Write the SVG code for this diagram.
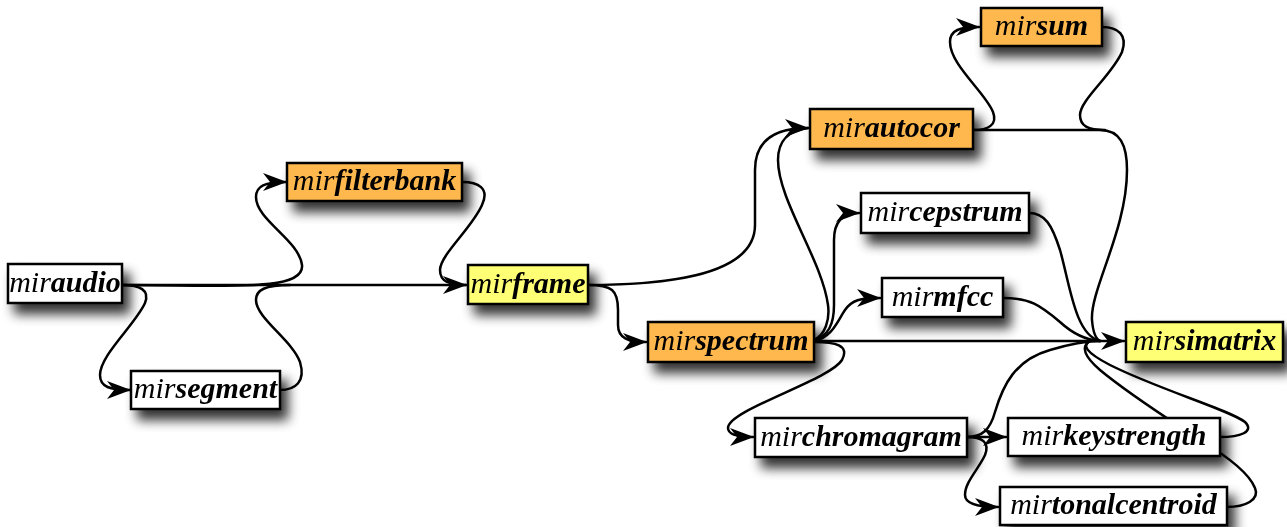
<svg xmlns="http://www.w3.org/2000/svg" width="1287" height="527" viewBox="0 0 1287 527">
<style>
.e{fill:none;stroke:#000;stroke-width:2.5;stroke-linecap:round}
.b{stroke:#000;stroke-width:2.5}
.w{fill:#fff}
.o{fill:#FFB84E}
.y{fill:#FFFF75}
.t{font-family:'Times New Roman',Times,Tinos,'Liberation Serif','Noto Serif','DejaVu Serif',serif;font-style:italic;font-size:30px;fill:#000;text-anchor:middle}
.n{font-weight:bold}
</style>
<defs>
<filter id="sh" x="-20%" y="-40%" width="150%" height="240%">
<feGaussianBlur in="SourceAlpha" stdDeviation="6"/>
<feOffset dx="7" dy="10" result="o"/>
<feComponentTransfer><feFuncA type="linear" slope="0.8"/></feComponentTransfer>
<feMerge><feMergeNode/><feMergeNode in="SourceGraphic"/></feMerge>
</filter>
<marker id="ar" markerUnits="userSpaceOnUse" markerWidth="24" markerHeight="18" viewBox="0 0 24 18" refX="23" refY="9" orient="auto">
<path d="M0,0 L24,9 L0,18 L7,9 Z" fill="#000"/>
</marker>
</defs>
<g id="connectors">
<path class="e" d="M122,285 L466,285" marker-end="url(#ar)"/>
<path class="e" d="M122,285 C230,285 305,292 302,265 C299,240 256,220 256,197 C256,186 265,182 286,182" marker-end="url(#ar)"/>
<path class="e" d="M122,285 C140,285 150,290 145,303 C135,325 100,355 100,375 C100,387 110,390 130,390" marker-end="url(#ar)"/>
<path class="e" d="M280,390 C295,390 306,382 300,362 C292,340 256,318 256,300 C256,290 265,285 290,285"/>
<path class="e" d="M462,182 C478,182 490,188 482,205 C472,228 440,255 440,270 C440,282 450,285 466,285"/>
<path class="e" d="M588,285 C650,285 755,280 755,225 L755,170 C755,140 775,128 808,128" marker-end="url(#ar)"/>
<path class="e" d="M588,285 C612,285 618,290 618,310 L618,325 C618,338 628,342 646,342" marker-end="url(#ar)"/>
<path class="e" d="M814,340 C825,335 830,320 828,305 C822,260 778,200 778,160 C778,140 790,130 808,128"/>
<path class="e" d="M814,340 C828,336 834,325 834,305 L834,240 C834,222 842,213 859,213" marker-end="url(#ar)"/>
<path class="e" d="M814,341 C832,338 838,320 845,310 C852,300 860,298 880,298" marker-end="url(#ar)"/>
<path class="e" d="M814,341 L1124,341" marker-end="url(#ar)"/>
<path class="e" d="M814,342 C835,342 850,345 842,360 C830,380 728,410 728,428 C728,435 738,437 753,437" marker-end="url(#ar)"/>
<path class="e" d="M973,130 C988,130 998,125 993,112 C985,92 950,65 950,42 C950,30 960,27 979,27" marker-end="url(#ar)"/>
<path class="e" d="M973,130 L1100,130 C1120,130 1127,145 1127,170 C1127,230 1090,290 1092,320 C1093,333 1096,339 1100,341"/>
<path class="e" d="M1102,27 C1118,27 1128,35 1122,52 C1112,75 1080,100 1080,115 C1080,126 1088,130 1105,130"/>
<path class="e" d="M1029,213 C1045,213 1052,225 1060,250 C1070,285 1075,335 1100,341"/>
<path class="e" d="M1003,298 C1030,298 1040,305 1060,322 C1072,333 1085,340 1100,341"/>
<path class="e" d="M967,437 L1006,437" marker-end="url(#ar)"/>
<path class="e" d="M967,437 C982,437 990,442 985,455 C978,470 965,482 965,495 C965,503 975,507 998,507" marker-end="url(#ar)"/>
<path class="e" d="M967,437 C982,437 990,430 995,412 C1003,385 1015,360 1050,350 C1070,344 1085,341 1100,341"/>
<path class="e" d="M1220,437 C1240,437 1255,432 1245,422 C1230,410 1160,390 1110,365 C1085,352 1082,345 1090,341"/>
<path class="e" d="M1227,507 C1245,507 1260,500 1255,488 C1248,470 1220,452 1200,440 C1170,420 1130,395 1100,370 C1085,357 1080,347 1090,341"/>
</g>
<g id="miraudio" filter="url(#sh)"><rect class="b w" x="8" y="264" width="114" height="39"/><text class="t" x="65" y="292">mir<tspan class="n">audio</tspan></text></g>
<g id="mirsegment" filter="url(#sh)"><rect class="b w" x="131" y="371" width="149" height="38"/><text class="t" x="205.5" y="398">mir<tspan class="n">segment</tspan></text></g>
<g id="mirfilterbank" filter="url(#sh)"><rect class="b o" x="287" y="163" width="175" height="38"/><text class="t" x="374.5" y="190">mir<tspan class="n">filterbank</tspan></text></g>
<g id="mirframe" filter="url(#sh)"><rect class="b y" x="468" y="265" width="120" height="39"/><text class="t" x="528" y="293">mir<tspan class="n">frame</tspan></text></g>
<g id="mirspectrum" filter="url(#sh)"><rect class="b o" x="648" y="322" width="166" height="40"/><text class="t" x="731" y="350">mir<tspan class="n">spectrum</tspan></text></g>
<g id="mirautocor" filter="url(#sh)"><rect class="b o" x="810" y="109" width="163" height="40"/><text class="t" x="891.5" y="137">mir<tspan class="n">autocor</tspan></text></g>
<g id="mircepstrum" filter="url(#sh)"><rect class="b w" x="861" y="193" width="168" height="40"/><text class="t" x="945" y="221">mir<tspan class="n">cepstrum</tspan></text></g>
<g id="mirmfcc" filter="url(#sh)"><rect class="b w" x="882" y="278" width="121" height="39"/><text class="t" x="942.5" y="306">mir<tspan class="n">mfcc</tspan></text></g>
<g id="mirsum" filter="url(#sh)"><rect class="b o" x="981" y="8" width="121" height="38"/><text class="t" x="1041.5" y="35">mir<tspan class="n">sum</tspan></text></g>
<g id="mirsimatrix" filter="url(#sh)"><rect class="b y" x="1126" y="322" width="157" height="40"/><text class="t" x="1204.5" y="350">mir<tspan class="n">simatrix</tspan></text></g>
<g id="mirchromagram" filter="url(#sh)"><rect class="b w" x="755" y="418" width="212" height="39"/><text class="t" x="861" y="446">mir<tspan class="n">chromagram</tspan></text></g>
<g id="mirkeystrength" filter="url(#sh)"><rect class="b w" x="1008" y="418" width="212" height="38"/><text class="t" x="1114" y="445">mir<tspan class="n">keystrength</tspan></text></g>
<g id="mirtonalcentroid" filter="url(#sh)"><rect class="b w" x="1000" y="487" width="227" height="38"/><text class="t" x="1113.5" y="514">mir<tspan class="n">tonalcentroid</tspan></text></g>
</svg>
